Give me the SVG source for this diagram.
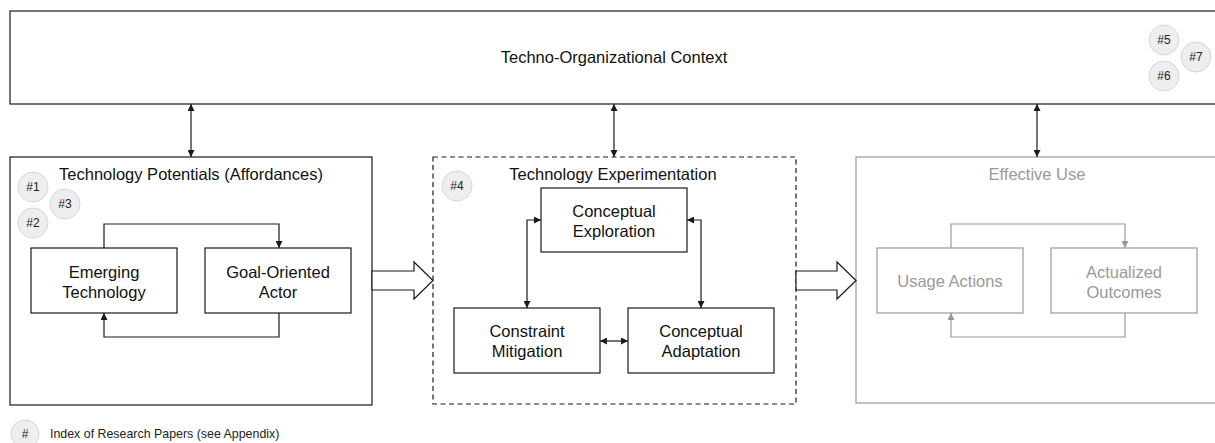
<svg xmlns="http://www.w3.org/2000/svg" width="1215" height="443" viewBox="0 0 1215 443">
<style>
.box{fill:#fff;stroke:#1a1a1a;stroke-width:1.2}
.gbox{fill:#fff;stroke:#999;stroke-width:1.2}
.t{font-family:"Liberation Sans",Arial,sans-serif;font-size:16.5px;fill:#111;text-anchor:middle}
.gt{font-family:"Liberation Sans",Arial,sans-serif;font-size:16.5px;fill:#999;text-anchor:middle}
.badge circle{fill:#eee;stroke:#d6d6d6;stroke-width:1}
.badge text{font-family:"Liberation Sans",Arial,sans-serif;font-size:12px;fill:#222;text-anchor:middle}
.ln{fill:none;stroke:#1a1a1a;stroke-width:1.2}
.gln{fill:none;stroke:#999;stroke-width:1.2}
.hollow{fill:#fff;stroke:#1a1a1a;stroke-width:1.2}
</style>
<defs>
<marker id="ah" viewBox="0 0 10 10" refX="10" refY="5" markerWidth="7" markerHeight="7" markerUnits="userSpaceOnUse" orient="auto-start-reverse"><path d="M0,0 L10,5 L0,10 z" fill="#1a1a1a"/></marker>
<marker id="gah" viewBox="0 0 10 10" refX="10" refY="5" markerWidth="7" markerHeight="7" markerUnits="userSpaceOnUse" orient="auto-start-reverse"><path d="M0,0 L10,5 L0,10 z" fill="#999"/></marker>
</defs>

<g id="context">
<rect class="box" x="10" y="11" width="1210" height="93"/>
<text class="t" x="614" y="63">Techno-Organizational Context</text>
<g class="badge"><circle cx="1164" cy="40" r="15"/><text x="1164" y="44">#5</text></g>
<g class="badge"><circle cx="1164" cy="76" r="15"/><text x="1164" y="80">#6</text></g>
<g class="badge"><circle cx="1196" cy="57" r="15"/><text x="1196" y="61">#7</text></g>
</g>

<g id="potentials">
<rect class="box" x="10" y="157" width="362" height="248"/>
<text class="t" x="191" y="180">Technology Potentials (Affordances)</text>
<g class="badge"><circle cx="33" cy="187" r="15"/><text x="33" y="191">#1</text></g>
<g class="badge"><circle cx="33" cy="223" r="15"/><text x="33" y="227">#2</text></g>
<g class="badge"><circle cx="65" cy="204" r="15"/><text x="65" y="208">#3</text></g>
</g>
<g id="emerging">
<rect class="box" x="31" y="248" width="146" height="65"/>
<text class="t" x="104" y="278">Emerging</text>
<text class="t" x="104" y="298">Technology</text>
</g>
<g id="actor">
<rect class="box" x="205" y="248" width="146" height="65"/>
<text class="t" x="278" y="278">Goal-Oriented</text>
<text class="t" x="278" y="298">Actor</text>
</g>

<g id="experimentation">
<rect class="box" x="433" y="157" width="363" height="247" stroke-dasharray="5,3.5"/>
<text class="t" x="613" y="180">Technology Experimentation</text>
<g class="badge"><circle cx="457" cy="186" r="15"/><text x="457" y="190">#4</text></g>
</g>
<g id="exploration">
<rect class="box" x="541" y="188" width="146" height="64"/>
<text class="t" x="614" y="217">Conceptual</text>
<text class="t" x="614" y="237">Exploration</text>
</g>
<g id="mitigation">
<rect class="box" x="454" y="308" width="146" height="65"/>
<text class="t" x="527" y="337">Constraint</text>
<text class="t" x="527" y="357">Mitigation</text>
</g>
<g id="adaptation">
<rect class="box" x="628" y="308" width="146" height="65"/>
<text class="t" x="701" y="337">Conceptual</text>
<text class="t" x="701" y="357">Adaptation</text>
</g>

<g id="effective">
<rect class="gbox" x="856" y="157" width="370" height="246"/>
<text class="gt" x="1037" y="180">Effective Use</text>
</g>
<g id="usage">
<rect class="gbox" x="877" y="248" width="146" height="65"/>
<text class="gt" x="950" y="287">Usage Actions</text>
</g>
<g id="outcomes">
<rect class="gbox" x="1051" y="248" width="146" height="65"/>
<text class="gt" x="1124" y="278">Actualized</text>
<text class="gt" x="1124" y="298">Outcomes</text>
</g>

<g id="legend">
<g class="badge"><circle cx="25" cy="434" r="14"/><text x="25" y="438">#</text></g>
<text x="50" y="438" style="font-family:'Liberation Sans',Arial,sans-serif;font-size:12.4px;fill:#222">Index of Research Papers (see Appendix)</text>
</g>

<g id="connectors">
<line class="ln" x1="191" y1="104" x2="191" y2="157" marker-start="url(#ah)" marker-end="url(#ah)"/>
<line class="ln" x1="614" y1="104" x2="614" y2="157" marker-start="url(#ah)" marker-end="url(#ah)"/>
<line class="ln" x1="1037" y1="104" x2="1037" y2="157" marker-start="url(#ah)" marker-end="url(#ah)"/>
<path class="ln" d="M104,248 V224 H279 V248" marker-end="url(#ah)"/>
<path class="ln" d="M279,313 V337 H104 V313" marker-end="url(#ah)"/>
<path class="ln" d="M541,220 H527 V308" marker-start="url(#ah)" marker-end="url(#ah)"/>
<path class="ln" d="M687,220 H701 V308" marker-start="url(#ah)" marker-end="url(#ah)"/>
<line class="ln" x1="600" y1="341" x2="628" y2="341" marker-start="url(#ah)" marker-end="url(#ah)"/>
<path class="gln" d="M951,248 V224 H1125 V248" marker-end="url(#gah)"/>
<path class="gln" d="M1125,313 V337 H951 V313" marker-end="url(#gah)"/>
<polygon class="hollow" points="372,271 414,271 414,262 433,280.5 414,299 414,290 372,290"/>
<polygon class="hollow" points="796,271 837,271 837,262 856,280.5 837,299 837,290 796,290"/>
</g>
</svg>
